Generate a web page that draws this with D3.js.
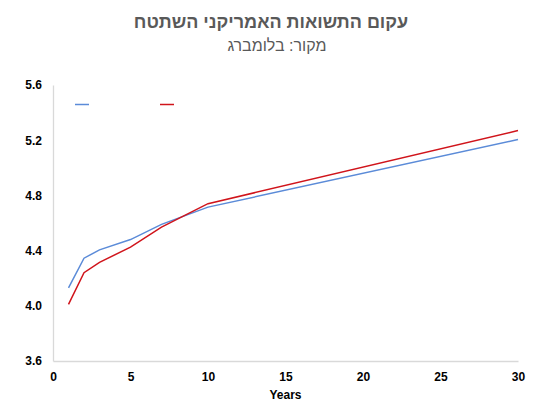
<!DOCTYPE html>
<html>
<head>
<meta charset="utf-8">
<script src="https://cdn.jsdelivr.net/npm/d3@7"></script>
<style>
  body { margin: 0; background: #fff; }
  svg { display: block; font-family: "Liberation Sans", Arial, sans-serif; }
</style>
</head>
<body>
<div id="chart"></div>
<script>
// maturities in years and yields in percent
const maturities = [1, 2, 3, 5, 7, 10, 30];
const seriesBlue = [4.13, 4.345, 4.405, 4.48, 4.59, 4.715, 5.205];
const seriesRed = [4.01, 4.24, 4.315, 4.425, 4.57, 4.74, 5.27];
const xTicks = [0, 5, 10, 15, 20, 25, 30];
const yTicks = [3.6, 4.0, 4.4, 4.8, 5.2, 5.6];

const width = 552, height = 414;
const margin = {top: 85, right: 34, bottom: 53, left: 53};

const svg = d3.select("#chart")
  .append("svg")
    .attr("width", width)
    .attr("height", height);

const x = d3.scaleLinear().domain([0, 30]).range([margin.left, width - margin.right]);
const y = d3.scaleLinear().domain([3.6, 5.6]).range([height - margin.bottom, margin.top]);

// title
svg.append("text")
  .attr("x", 271).attr("y", 28)
  .attr("text-anchor", "middle")
  .style("font-size", "18px")
  .style("font-weight", "bold")
  .style("fill", "#595959")
  .text("עקום התשואות האמריקני השתטח");

svg.append("text")
  .attr("x", 277).attr("y", 51)
  .attr("text-anchor", "middle")
  .style("font-size", "16px")
  .style("fill", "#595959")
  .text("מקור: בלומברג");

// axes
const xAxis = svg.append("g")
  .attr("transform", `translate(0,${y(3.6)})`)
  .call(d3.axisBottom(x).tickValues(xTicks).tickSize(0).tickPadding(11).tickFormat(d3.format("d")));

const yAxis = svg.append("g")
  .attr("transform", `translate(${x(0)},0)`)
  .call(d3.axisLeft(y).tickValues(yTicks).tickSize(0).tickPadding(11).tickFormat(d3.format(".1f")));

[xAxis, yAxis].forEach(function(g) {
  g.select(".domain").attr("stroke", "#d9d9d9").attr("stroke-width", 1.3);
  g.selectAll("text")
    .style("font-family", "Liberation Sans, Arial, sans-serif")
    .style("font-size", "12px")
    .style("font-weight", "bold")
    .style("fill", "#000");
});

svg.append("text")
  .attr("x", (x(0) + x(30)) / 2).attr("y", 399)
  .attr("text-anchor", "middle")
  .style("font-size", "12px")
  .style("font-weight", "bold")
  .text("Years");

// lines
const line = d3.line()
  .x(function(d) { return x(d[0]); })
  .y(function(d) { return y(d[1]); });

const series = [
  {values: seriesBlue, colour: "#5b8bd8"},
  {values: seriesRed, colour: "#d0141b"}
];

series.forEach(function(s) {
  svg.append("path")
    .datum(maturities.map(function(m, i) { return [m, s.values[i]]; }))
    .attr("fill", "none")
    .attr("stroke", s.colour)
    .attr("stroke-width", 1.5)
    .attr("d", line);
});

// legend (no labels in the original)
const legendX = [75, 160];
series.forEach(function(s, i) {
  svg.append("line")
    .attr("x1", legendX[i]).attr("x2", legendX[i] + 14)
    .attr("y1", 104.5).attr("y2", 104.5)
    .attr("stroke", s.colour)
    .attr("stroke-width", 1.5);
});
</script>
</body>
</html>
